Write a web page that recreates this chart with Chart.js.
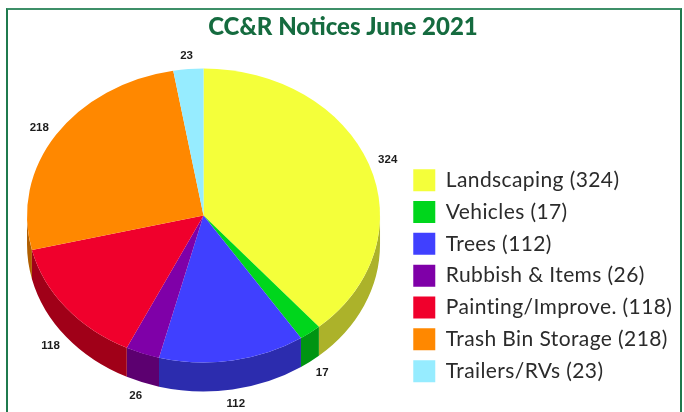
<!DOCTYPE html>
<html><head><meta charset="utf-8">
<style>
html,body{margin:0;padding:0;background:#fff;overflow:hidden}
#frame{position:absolute;left:6px;top:8px;width:672px;height:420px;border-left:2px solid #1f7a4d;border-top:2px solid #3d8f68;border-right:2px solid #1f7a4d}
canvas{position:absolute;left:0;top:0}
</style></head>
<body><div id="frame"></div><canvas id="c" width="684" height="412"></canvas>
<script src="https://cdn.jsdelivr.net/npm/chart.js@4"></script>
<script>
const titleText = "CC&R Notices June 2021";
const categories = ["Landscaping","Vehicles","Trees","Rubbish & Items","Painting/Improve.","Trash Bin Storage","Trailers/RVs"];
const counts = [324,17,112,26,118,218,23];
const sliceColors = ["#f4ff3a","#00d61c","#4040ff","#7f00a8","#f0002c","#ff8800","#96ecff"];
const sideColors = ["#acb22a","#009412","#2c2cae","#5c0070","#a00018","#b05e00","#68a4b2"];

const squash = 147/176.5, depth = 29, legendSpacing = '0.4px';

const pie3d = {
  id:'pie3d',
  beforeLayout(chart){ chart.ctx.letterSpacing = legendSpacing; },
  afterLayout(chart){
    const ctx = chart.ctx, lg = chart.legend;
    ctx.letterSpacing = '0px';
    if(!lg.spacedDraw){
      const base = lg.draw.bind(lg);
      lg.spacedDraw = true;
      lg.draw = function(area){
        ctx.letterSpacing = legendSpacing;
        base(area);
        ctx.letterSpacing = '0px';
      };
    }
  },
  beforeDatasetDraw(chart,args){
    const ctx = chart.ctx, arcs = args.meta.data;
    const cx = arcs[0].x, cy = arcs[0].y, rx = arcs[0].outerRadius, ry = rx*squash;
    ctx.save();
    arcs.forEach((arc,i)=>{
      const a = Math.max(arc.startAngle,0), b = Math.min(arc.endAngle,Math.PI);
      const wrapA = Math.max(arc.startAngle-2*Math.PI,0), wrapB = Math.min(arc.endAngle-2*Math.PI,Math.PI);
      [[a,b],[wrapA,wrapB]].forEach(([s,e])=>{
        if(e<=s) return;
        ctx.beginPath();
        ctx.ellipse(cx,cy,rx,ry,0,s,e);
        ctx.ellipse(cx,cy+depth,rx,ry,0,e,s,true);
        ctx.closePath();
        ctx.fillStyle = sideColors[i];
        ctx.fill();
      });
    });
    ctx.translate(0,cy);ctx.scale(1,squash);ctx.translate(0,-cy);
  },
  afterDatasetDraw(chart,args){
    const ctx = chart.ctx, arcs = args.meta.data;
    ctx.restore();
    const cx = arcs[0].x, cy = arcs[0].y, rx = arcs[0].outerRadius, ry = rx*squash;
    ctx.save();
    ctx.font = 'bold 11.5px "Liberation Sans"';
    ctx.fillStyle = '#1c1c1c';
    ctx.textAlign='center';ctx.textBaseline='middle';
    arcs.forEach((arc,i)=>{
      const m = (arc.startAngle+arc.endAngle)/2;
      const x = cx + (rx+20)*Math.cos(m);
      const y = cy + (ry+13)*Math.sin(m) + (Math.sin(m)>0.1?depth+1:0);
      ctx.fillText(String(counts[i]),x,y);
    });
    ctx.restore();
  }
};

new Chart(document.getElementById('c'),{
  type:'pie',
  data:{
    labels:categories.map((c,i)=>c+" ("+counts[i]+")"),
    datasets:[{data:counts,backgroundColor:sliceColors,borderWidth:0,clip:false}]
  },
  plugins:[pie3d],
  options:{
    responsive:false,animation:false,
    layout:{padding:{left:3.6,right:1.7,top:15,bottom:20}},
    plugins:{
      tooltip:{enabled:false},
      title:{display:true,text:titleText,color:'#156b3f',font:{family:'Lato',weight:900,size:24,lineHeight:1},padding:0},
      legend:{position:'right',align:'end',
        labels:{boxWidth:22,boxHeight:22,padding:9.83,color:'#2b2b2b',font:{family:'Lato',size:21}}}
    }
  }
});
</script></body></html>
